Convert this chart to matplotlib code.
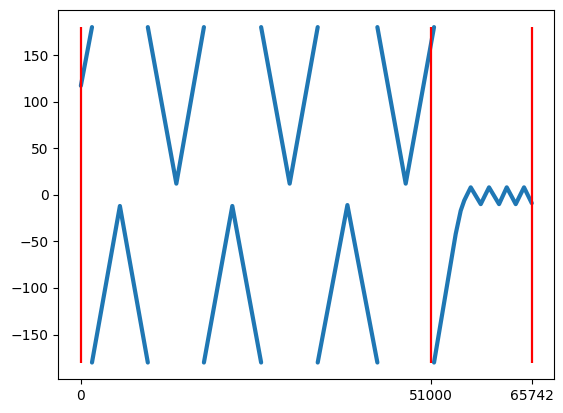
import matplotlib
matplotlib.use("Agg")
import matplotlib.pyplot as plt
import numpy as np

nan = np.nan

# sample index / wrapped phase (degrees), NaN where the phase wraps around
sample = [0, 1620, nan,
          1620, 5690, 9760, nan,
          9760, 13920, 17940, nan,
          17940, 22080, 26280, nan,
          26280, 30440, 34530, nan,
          34530, 38860, 43230, nan,
          43230, 47360, 51490, nan,
          51490, 54650, 55380, 55900, 56300, 56840, 57570, 58300, 58900,
          59510, 60240, 60970, 61530, 62090, 62750, 63400, 64000, 64610, 65742]
phase = [117, 180, nan,
         -180, -12, -180, nan,
         180, 12, 180, nan,
         -180, -12, -180, nan,
         180, 12, 180, nan,
         -180, -11, -180, nan,
         180, 12, 180, nan,
         -180, -42, -17, -6, 0, 8, -1, -10, -1,
         8, -1, -10, -1, 8, -1, -10, -1, 8, -9]

markers = [0, 51000, 65742]  # red boundary lines

fig = plt.figure(figsize=(5.63, 4.13), dpi=100)
ax = fig.add_axes([0.1036, 0.0816, 0.881, 0.8934])

ax.plot(sample, phase, color='#1f77b4', linewidth=3.0, solid_capstyle='round')
ax.vlines(markers, -180, 180, colors='red', linewidth=1.6)
ax.set_xticks(markers)
ax.set_xticklabels([str(m) for m in markers])

plt.savefig('out.png', dpi=100)
